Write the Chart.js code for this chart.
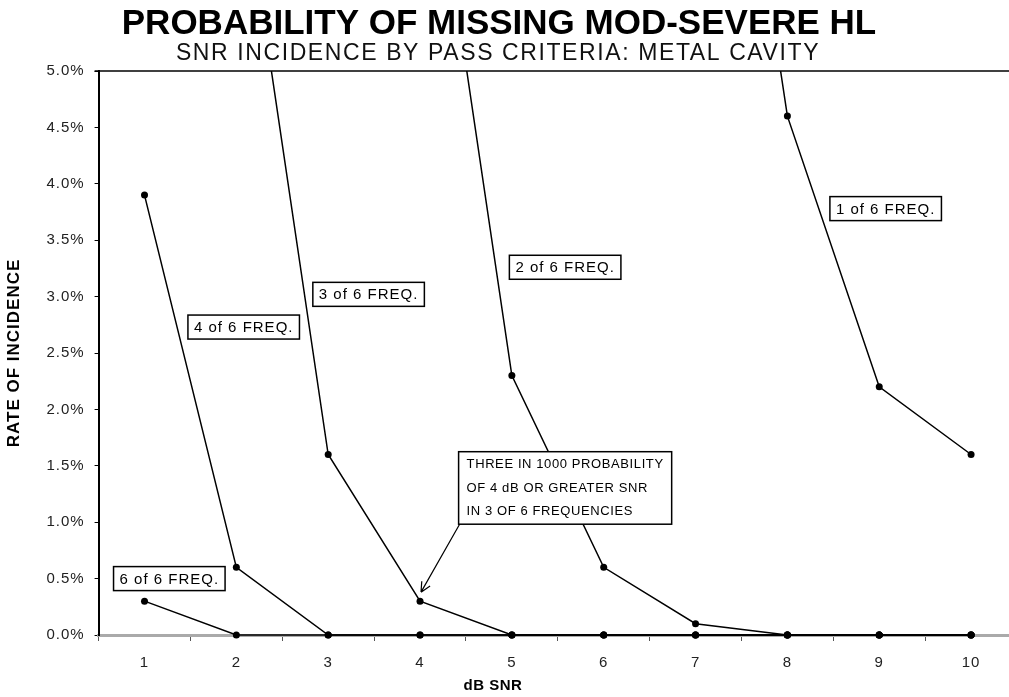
<!DOCTYPE html>
<html>
<head>
<meta charset="utf-8">
<title>Probability of missing mod-severe HL</title>
<script src="https://cdn.jsdelivr.net/npm/chart.js@4.4.1/dist/chart.umd.min.js"></script>
<style>
  html, body { margin: 0; padding: 0; background: #fff; overflow: hidden; }
  #wrap { width: 1021px; height: 697px; }
</style>
</head>
<body>
<div id="wrap"><canvas id="myChart" width="1021" height="697"></canvas></div>
<script>
// dB SNR categories
const snrLabels = ['1', '2', '3', '4', '5', '6', '7', '8', '9', '10'];

// rate of incidence (%) for each pass criterion; null = not measured / off scale
const pass6of6 = [0.3, 0, 0, 0, 0, 0, 0, 0, 0, 0];
const pass4of6 = [3.9, 0.6, 0, 0, 0, 0, 0, 0, 0, 0];
const pass3of6 = [null, 7.1, 1.6, 0.3, 0, 0, 0, 0, 0, 0];
const pass2of6 = [null, null, null, 7.8, 2.3, 0.6, 0.1, 0, 0, 0];
const pass1of6 = [null, null, null, null, null, null, 10.0, 4.6, 2.2, 1.6];

// curve name tags (placed in dB / % units)
const curveNames = ['6 of 6 FREQ.', '4 of 6 FREQ.', '3 of 6 FREQ.', '2 of 6 FREQ.', '1 of 6 FREQ.'];
const nameX = [1.27, 2.08, 3.44, 5.58, 9.07];
const nameY = [0.50, 2.73, 3.02, 3.26, 3.78];

// callout text, its top-left corner and the point it refers to
const noteLines = ['THREE IN 1000 PROBABILITY', 'OF 4 dB OR GREATER SNR', 'IN 3 OF 6 FREQUENCIES'];
const noteCorner = { x: 4.42, y: 1.625 };
const noteTarget = { x: 4, y: 0.3 };

const titleText = 'PROBABILITY OF MISSING MOD-SEVERE HL';
const subtitleText = 'SNR INCIDENCE BY PASS CRITERIA: METAL CAVITY';
const xTitleText = 'dB SNR';

const FONT = '"Liberation Sans", Arial, sans-serif';
const HEAD_X = 497;

function series(data) {
    return {
        data: data,
        borderColor: '#000',
        borderWidth: 1.5,
        pointRadius: 3.5,
        pointBackgroundColor: '#000',
        pointBorderColor: '#000',
        pointBorderWidth: 0,
        tension: 0,
        fill: false,
        clip: { left: 6, top: 0, right: 6, bottom: 6 }
    };
}

const chartDecor = {
    id: 'chartDecor',
    beforeUpdate(chart) { chart.ctx.letterSpacing = '1px'; },
    beforeDraw(chart) { chart.ctx.letterSpacing = '1px'; },
    afterDatasetsDraw(chart) {
        const { ctx, chartArea, scales } = chart;
        const xPix = v => scales.x.getPixelForValue(v - 1);
        const yPix = v => scales.y.getPixelForValue(v);

        ctx.save();
        // top edge of the plot frame
        ctx.strokeStyle = '#000';
        ctx.lineWidth = 1.5;
        ctx.beginPath();
        ctx.moveTo(chartArea.left - 4, chartArea.top);
        ctx.lineTo(chartArea.right, chartArea.top);
        ctx.stroke();

        // curve name tags
        ctx.font = '15px ' + FONT;
        ctx.letterSpacing = '1px';
        ctx.textAlign = 'center';
        ctx.textBaseline = 'middle';
        curveNames.forEach((name, i) => {
            const cx = xPix(nameX[i]);
            const cy = yPix(nameY[i]);
            const w = ctx.measureText(name).width + 12;
            const h = 24;
            ctx.fillStyle = '#fff';
            ctx.fillRect(cx - w / 2, cy - h / 2, w, h);
            ctx.strokeStyle = '#000';
            ctx.lineWidth = 1.5;
            ctx.strokeRect(cx - w / 2, cy - h / 2, w, h);
            ctx.fillStyle = '#000';
            ctx.fillText(name, cx, cy + 1);
        });

        // callout box
        ctx.font = '13px ' + FONT;
        ctx.letterSpacing = '0.6px';
        ctx.textAlign = 'left';
        const bx = xPix(noteCorner.x);
        const by = yPix(noteCorner.y);
        const lineH = 23.5;
        const bw = Math.max(...noteLines.map(t => ctx.measureText(t).width)) + 16;
        const bh = lineH * noteLines.length + 2;
        ctx.fillStyle = '#fff';
        ctx.fillRect(bx, by, bw, bh);
        ctx.strokeStyle = '#000';
        ctx.lineWidth = 1.5;
        ctx.strokeRect(bx, by, bw, bh);
        ctx.fillStyle = '#000';
        noteLines.forEach((t, i) => ctx.fillText(t, bx + 8, by + 13 + i * lineH));

        // arrow from the callout to its point
        const tx = xPix(noteTarget.x) + 1;
        const ty = yPix(noteTarget.y) - 9;
        const sx = bx + 1;
        const sy = by + bh;
        ctx.lineWidth = 1.2;
        ctx.beginPath();
        ctx.moveTo(sx, sy);
        ctx.lineTo(tx, ty);
        const ang = Math.atan2(ty - sy, tx - sx);
        [0.45, -0.45].forEach(d => {
            ctx.moveTo(tx, ty);
            ctx.lineTo(tx - 11 * Math.cos(ang + d), ty - 11 * Math.sin(ang + d));
        });
        ctx.stroke();
        ctx.restore();
    },
    afterDraw(chart) {
        const ctx = chart.ctx;
        ctx.save();
        ctx.fillStyle = '#000';
        ctx.textAlign = 'center';
        ctx.textBaseline = 'alphabetic';
        ctx.letterSpacing = '0px';
        ctx.font = 'bold 35px ' + FONT;
        ctx.fillText(titleText, HEAD_X + 2, 34);
        ctx.font = '23px ' + FONT;
        ctx.letterSpacing = '1.6px';
        ctx.fillStyle = '#111';
        ctx.fillText(subtitleText, HEAD_X + 1, 60);
        ctx.font = 'bold 15px ' + FONT;
        ctx.letterSpacing = '0.5px';
        ctx.fillStyle = '#000';
        ctx.textBaseline = 'middle';
        ctx.fillText(xTitleText, HEAD_X - 4, 686);
        ctx.restore();
    }
};

const ctx = document.getElementById('myChart').getContext('2d');

const myChart = new Chart(ctx, {
    type: 'line',
    data: {
        labels: snrLabels,
        datasets: [
            series(pass6of6),
            series(pass4of6),
            series(pass3of6),
            series(pass2of6),
            series(pass1of6)
        ]
    },
    options: {
        responsive: false,
        animation: false,
        events: [],
        layout: { padding: { top: 71, right: 0, bottom: 12, left: 4 } },
        plugins: {
            legend: { display: false },
            tooltip: { enabled: false },
            title: { display: false }
        },
        scales: {
            x: {
                type: 'category',
                offset: true,
                grid: { drawOnChartArea: false, offset: true, tickLength: 6, color: '#555', tickWidth: 1 },
                border: { color: '#aaa', width: 3 },
                ticks: { color: '#222', padding: 13, maxRotation: 0, font: { family: FONT, size: 15 } },
                title: { display: false }
            },
            y: {
                min: 0,
                max: 5,
                grid: { drawOnChartArea: false, tickLength: 4, color: '#000' },
                border: { color: '#000', width: 2 },
                ticks: {
                    stepSize: 0.5, color: '#222', padding: 10,
                    font: { family: FONT, size: 15 },
                    callback: v => v.toFixed(1) + '%'
                },
                title: {
                    display: true, text: 'RATE OF INCIDENCE', color: '#000',
                    font: { family: FONT, size: 17, weight: 'bold' },
                    padding: { top: 0, bottom: 12 }
                }
            }
        }
    },
    plugins: [chartDecor]
});
</script>
</body>
</html>
